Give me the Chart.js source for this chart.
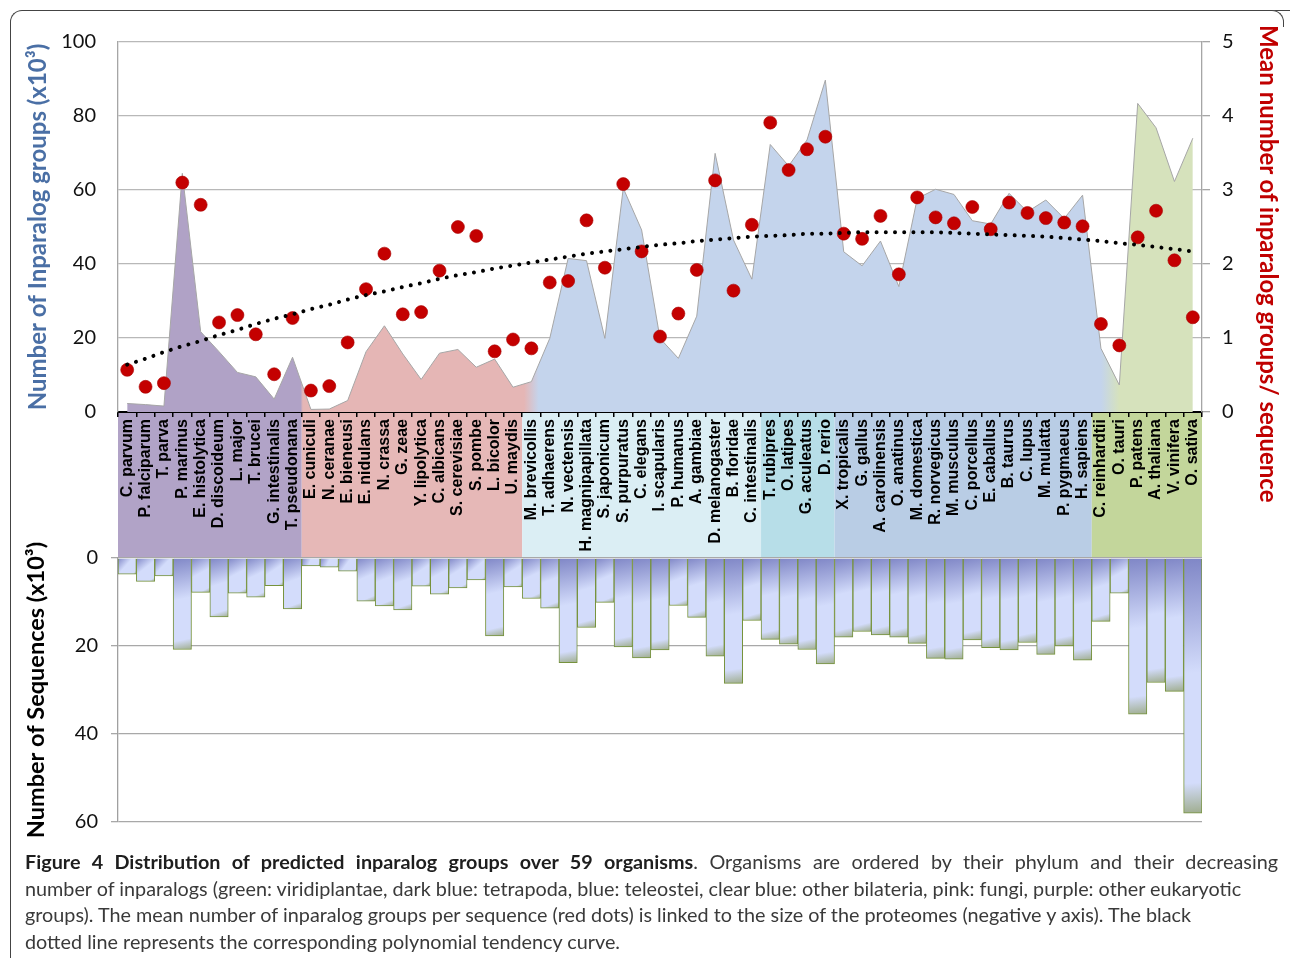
<!DOCTYPE html>
<html lang="en">
<head>
  <meta charset="UTF-8">
  <title>Distribution of predicted inparalog groups over 59 organisms</title>
  <script src="https://cdn.jsdelivr.net/npm/chart.js"></script>
  <style>
    body {
      margin: 0;
      background: #fff;
      width: 1290px;
      height: 958px;
      position: relative;
      overflow: hidden;
      font-family: Lato, "Noto Sans", sans-serif;
    }

    #topChart { position: absolute; left: 0; top: 0; }
    #bottomChart { position: absolute; left: 0; top: 520px; }

    .frame {
      position: absolute;
      left: 10px;
      top: 10px;
      width: 1400px;
      height: 1100px;
      border-left: 1px solid #444;
      border-top: 1px solid #444;
      border-top-left-radius: 12px;
    }

    .frame-right {
      position: absolute;
      left: 1268px;
      top: 10px;
      width: 15px;
      height: 16px;
      border-top: 1px solid #444;
      border-right: 1px solid #444;
      border-top-right-radius: 12px;
      background: #fff;
    }

    #rightTitle {
      position: absolute;
      left: 1255px;
      top: 25px;
      writing-mode: vertical-rl;
      font-family: Lato, sans-serif;
      font-weight: bold;
      font-size: 24px;
      line-height: 28px;
      color: #c00000;
      white-space: nowrap;
    }

    #caption {
      position: absolute;
      left: 25px;
      top: 848px;
      width: 1253px;
      font-family: Lato, sans-serif;
      font-size: 19.8px;
      color: #3a3a3a;
    }

    #caption .line {
      height: 26.7px;
      line-height: 26.7px;
      white-space: nowrap;
    }

    #caption .first {
      white-space: normal;
      text-align: justify;
      text-align-last: justify;
    }

    #caption b { color: #1e1e1e; }
  </style>
</head>
<body>
  <div class="frame"></div>
  <div class="frame-right"></div>

  <canvas id="topChart" width="1290" height="558"></canvas>
  <canvas id="bottomChart" width="1290" height="330"></canvas>

  <div id="rightTitle">Mean number of inparalog groups/ sequence</div>

  <div id="caption">
    <div class="line first"><b>Figure 4 Distribution of predicted inparalog groups over 59 organisms</b>. Organisms are ordered by their phylum and their decreasing</div>
    <div class="line">number of inparalogs (green: viridiplantae, dark blue: tetrapoda, blue: teleostei, clear blue: other bilateria, pink: fungi, purple: other eukaryotic</div>
    <div class="line">groups). The mean number of inparalog groups per sequence (red dots) is linked to the size of the proteomes (negative y axis). The black</div>
    <div class="line">dotted line represents the corresponding polynomial tendency curve.</div>
  </div>

  <script>
    // organisms, in the order of the figure
    const organisms = [
      'C. parvum', 'P. falciparum', 'T. parva', 'P. marinus', 'E. histolytica', 'D. discoideum',
      'L. major', 'T. brucei', 'G. intestinalis', 'T. pseudonana',
      'E. cuniculi', 'N. ceranae', 'E. bieneusi', 'E. nidulans', 'N. crassa', 'G. zeae',
      'Y. lipolytica', 'C. albicans', 'S. cerevisiae', 'S. pombe', 'L. bicolor', 'U. maydis',
      'M. brevicollis', 'T. adhaerens', 'N. vectensis', 'H. magnipapillata', 'S. japonicum',
      'S. purpuratus', 'C. elegans', 'I. scapularis', 'P. humanus', 'A. gambiae',
      'D. melanogaster', 'B. floridae', 'C. intestinalis',
      'T. rubipres', 'O. latipes', 'G. aculeatus', 'D. rerio',
      'X. tropicalis', 'G. gallus', 'A. carolinensis', 'O. anatinus', 'M. domestica',
      'R. norvegicus', 'M. musculus', 'C. porcellus', 'E. caballus', 'B. taurus', 'C. lupus',
      'M. mulatta', 'P. pygmaeus', 'H. sapiens',
      'C. reinhardtii', 'O. tauri', 'P. patens', 'A. thaliana', 'V. vinifera', 'O. sativa'
    ];

    // number of inparalog groups (x10^3), left axis
    const inparalogGroups = [
      2.3, 2.0, 1.6, 64.5, 21.7, 16.3, 10.7, 9.5, 3.5, 14.8,
      0.7, 0.8, 3.1, 16.3, 23.3, 15.7, 8.8, 15.9, 16.9, 12.1, 14.3, 6.7,
      8.2, 19.9, 41.5, 40.9, 19.9, 60.5, 49.2, 19.9, 14.5, 25.9, 69.9, 46.5, 35.9,
      72.3, 66.5, 73.5, 89.7,
      43.3, 39.5, 46.2, 33.9, 57.7, 60.2, 58.8, 51.7, 50.8, 59.1, 54.1, 57.3, 52.3, 58.6,
      17.2, 7.3, 83.4, 76.8, 62.3, 74.0
    ];

    // mean number of inparalog groups per sequence (red dots), right axis
    const meanPerSequence = [
      0.57, 0.34, 0.39, 3.10, 2.80, 1.21, 1.31, 1.05, 0.51, 1.27,
      0.29, 0.35, 0.94, 1.66, 2.14, 1.32, 1.35, 1.91, 2.50, 2.38, 0.82, 0.98,
      0.86, 1.75, 1.77, 2.59, 1.95, 3.08, 2.17, 1.02, 1.33, 1.92, 3.13, 1.64, 2.53,
      3.91, 3.27, 3.55, 3.72,
      2.41, 2.34, 2.65, 1.86, 2.90, 2.63, 2.55, 2.77, 2.47, 2.83, 2.69, 2.62, 2.56, 2.51,
      1.19, 0.90, 2.36, 2.72, 2.05, 1.28
    ];

    // polynomial tendency curve, right axis
    const trendCurve = [
      0.64, 0.72, 0.81, 0.89, 0.96, 1.04, 1.11, 1.19, 1.26, 1.32,
      1.39, 1.45, 1.52, 1.58, 1.63, 1.69, 1.74, 1.80, 1.85, 1.89, 1.94, 1.98,
      2.02, 2.06, 2.10, 2.14, 2.17, 2.20, 2.23, 2.26, 2.28, 2.31, 2.33, 2.35, 2.37,
      2.38, 2.39, 2.41, 2.41,
      2.42, 2.43, 2.43, 2.43, 2.43, 2.43, 2.42, 2.41, 2.40, 2.39, 2.38, 2.37, 2.35, 2.33,
      2.31, 2.28, 2.26, 2.23, 2.20, 2.17
    ];

    // number of sequences (x10^3), bottom chart
    const sequenceCounts = [
      3.7, 5.3, 4.1, 20.8, 7.8, 13.4, 8.0, 8.9, 6.3, 11.6,
      1.8, 2.1, 3.0, 9.8, 10.9, 11.8, 6.4, 8.2, 6.8, 5.0, 17.7, 6.6,
      9.2, 11.4, 23.8, 15.8, 10.1, 20.2, 22.7, 20.9, 10.8, 13.5, 22.3, 28.5, 14.2,
      18.5, 19.6, 20.8, 24.1,
      18.0, 16.7, 17.5, 18.0, 19.4, 22.8, 23.0, 18.6, 20.4, 20.9, 19.2, 21.9, 20.0, 23.2,
      14.4, 8.0, 35.5, 28.3, 30.3, 58.0
    ];

    // phylum groups (first and last organism index of each)
    const phylumNames = ['other eukaryotes', 'fungi', 'other bilateria', 'teleostei', 'tetrapoda', 'viridiplantae'];
    const phylumFirst = [0, 10, 22, 35, 39, 53];
    const phylumLast = [9, 21, 34, 38, 52, 58];
    const bandColors = ['#b1a3c7', '#e6b8b7', '#dbeef4', '#b7dee8', '#b9cde5', '#c3d69b'];

    Chart.defaults.font.family = 'Lato, "Noto Sans", sans-serif';

    // area colours follow the phylum, with soft joins like the original
    function areaFill(context) {
      const { ctx, chartArea, scales } = context.chart;
      if (!chartArea || !scales.x) return '#c4d4ec';
      const x = scales.x;
      const w = chartArea.right - chartArea.left;
      const at = v => Math.min(1, Math.max(0, (x.getPixelForValue(v) - chartArea.left) / w));
      const g = ctx.createLinearGradient(chartArea.left, 0, chartArea.right, 0);
      g.addColorStop(0, '#b0a2c6');
      g.addColorStop(at(9.5) - 0.001, '#b0a2c6');
      g.addColorStop(at(9.5) + 0.001, '#e5b6b5');
      g.addColorStop(at(21.6), '#e5b6b5');
      g.addColorStop(at(22.4), '#c4d4ec');
      g.addColorStop(at(53), '#c4d4ec');
      g.addColorStop(at(54), '#d6e2bc');
      g.addColorStop(1, '#d6e2bc');
      return g;
    }

    // bars: dark blue at the base, light body, grey-green corner
    function barFill(context) {
      if (context.type !== 'data') return '#d3dcfb';
      const { ctx, scales } = context.chart;
      const x = scales.x, y = scales.y;
      if (!x || !y) return '#d3dcfb';
      const cx = x.getPixelForValue(context.dataIndex);
      const half = (x.getPixelForValue(1) - x.getPixelForValue(0)) / 2;
      const top = y.getPixelForValue(0);
      const bottom = y.getPixelForValue(context.raw);
      if (!isFinite(cx) || !isFinite(top) || !isFinite(bottom)) return '#d3dcfb';
      const g = ctx.createLinearGradient(cx - half, top, cx + half, bottom);
      g.addColorStop(0, '#7f86c6');
      g.addColorStop(0.45, '#d3dcfb');
      g.addColorStop(0.88, '#d3dcfb');
      g.addColorStop(1, '#9fad8e');
      return g;
    }

    // coloured bands behind the organism names
    const phylumBands = {
      id: 'phylumBands',
      beforeDraw(chart) {
        const { ctx, chartArea, scales: { x } } = chart;
        ctx.save();
        phylumFirst.forEach((first, k) => {
          const left = x.getPixelForValue(first - 0.5);
          const right = x.getPixelForValue(phylumLast[k] + 0.5);
          ctx.fillStyle = bandColors[k];
          ctx.fillRect(left, chartArea.bottom, right - left, chart.height - chartArea.bottom);
        });
        ctx.restore();
      }
    };

    new Chart(document.getElementById('topChart'), {
      data: {
        labels: organisms,
        datasets: [
          {
            type: 'line',
            label: 'Polynomial tendency',
            data: trendCurve,
            yAxisID: 'y2',
            borderColor: '#000',
            borderWidth: 4,
            borderDash: [0.01, 9.2],
            borderCapStyle: 'round',
            pointRadius: 0,
            fill: false,
            order: 1
          },
          {
            type: 'line',
            label: 'Mean inparalog groups / sequence',
            data: meanPerSequence,
            yAxisID: 'y2',
            showLine: false,
            pointRadius: 6.5,
            pointBackgroundColor: '#c40000',
            pointBorderColor: '#a80000',
            pointBorderWidth: 0.6,
            order: 2
          },
          {
            type: 'line',
            label: 'Inparalog groups',
            data: inparalogGroups,
            yAxisID: 'y',
            borderColor: '#a6a6a6',
            borderWidth: 1,
            pointRadius: 0,
            tension: 0,
            fill: 'origin',
            backgroundColor: areaFill,
            order: 3
          }
        ]
      },
      options: {
        responsive: false,
        animation: false,
        layout: { padding: { left: 24, right: 10, top: 42, bottom: 0 } },
        plugins: {
          legend: { display: false },
          tooltip: { enabled: false }
        },
        scales: {
          x: {
            type: 'category',
            offset: true,
            grid: { offset: true, drawOnChartArea: false, drawTicks: true, tickLength: 5, color: '#000', lineWidth: 1.5 },
            border: { color: '#000', width: 2 },
            ticks: {
              autoSkip: false,
              maxRotation: 90,
              minRotation: 90,
              padding: 2,
              color: '#000',
              font: { family: '"Liberation Sans", Arial, sans-serif', weight: 'bold', size: 16 }
            },
            afterFit: scale => { scale.height = 146; }
          },
          y: {
            position: 'left',
            min: 0,
            max: 100,
            ticks: { stepSize: 20, padding: 22, color: '#111', font: { size: 20 } },
            grid: { color: '#b8b8b8', lineWidth: 1.3, drawTicks: false },
            border: { color: '#a6a6a6', width: 1.3 },
            title: {
              display: true,
              text: 'Number of Inparalog groups (x10³)',
              color: '#4a6fa5',
              font: { size: 24, weight: 'bold' },
              padding: 0
            },
            afterFit: scale => { scale.width = 94; }
          },
          y2: {
            position: 'right',
            min: 0,
            max: 5,
            ticks: { stepSize: 1, padding: 12, color: '#111', font: { size: 20 } },
            grid: { drawOnChartArea: false, drawTicks: true, tickLength: 8, color: '#a6a6a6', lineWidth: 1.3 },
            border: { color: '#a6a6a6', width: 1.3 },
            afterFit: scale => { scale.width = 78; }
          }
        }
      },
      plugins: [phylumBands]
    });

    new Chart(document.getElementById('bottomChart'), {
      type: 'bar',
      data: {
        labels: organisms,
        datasets: [{
          label: 'Number of sequences',
          data: sequenceCounts,
          backgroundColor: barFill,
          borderColor: '#76923c',
          borderWidth: 1,
          barPercentage: 1,
          categoryPercentage: 1
        }]
      },
      options: {
        responsive: false,
        animation: false,
        layout: { padding: { left: 22, right: 88, top: 38, bottom: 28 } },
        plugins: {
          legend: { display: false },
          tooltip: { enabled: false }
        },
        scales: {
          x: { display: false, offset: true },
          y: {
            reverse: true,
            min: 0,
            max: 60,
            ticks: { stepSize: 20, padding: 13, color: '#111', font: { size: 20 } },
            grid: { color: '#a8a8a8', lineWidth: 1.3, drawTicks: true, tickLength: 7 },
            border: { color: '#a0a0a0', width: 1.3 },
            title: {
              display: true,
              text: 'Number of Sequences (x10³)',
              color: '#000',
              font: { size: 23.5, weight: 'bold' },
              padding: 0
            },
            afterFit: scale => { scale.width = 96; }
          }
        }
      }
    });
  </script>
</body>
</html>
